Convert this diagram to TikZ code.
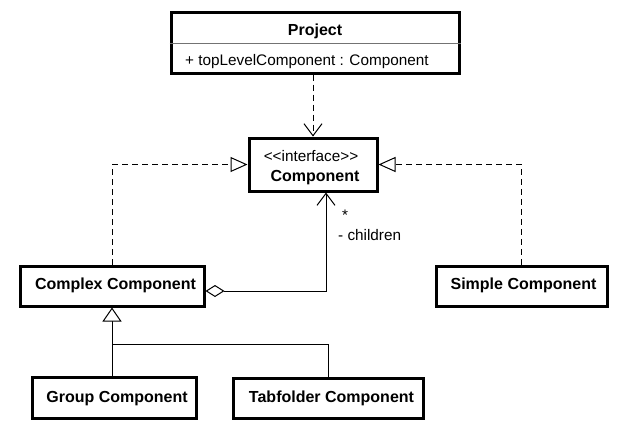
\documentclass[tikz,border=0pt]{standalone}
\usepackage{fontspec}
\setmainfont{Liberation Sans}
\usetikzlibrary{arrows.meta,calc}
\begin{document}
\begin{tikzpicture}[x=1pt,y=-1pt,
  umlbox/.style={draw=black,line width=3pt,rectangle,inner sep=0pt,fill=white},
  lbl/.style={inner sep=0pt,font=\fontsize{15.3}{17}\selectfont},
  blbl/.style={inner sep=0pt,font=\fontsize{16}{18}\selectfont\bfseries},
  conn/.style={draw=black,line width=1pt},
  dep/.style={conn,dash pattern=on 6pt off 4pt,-{Straight Barb[length=12pt,width=18pt,line width=1pt]}},
  real/.style={conn,dash pattern=on 6pt off 4pt,-{Triangle[open,length=17pt,width=15pt,line width=1pt,fill=white]}},
  gen/.style={conn,-{Triangle[open,length=14pt,width=19pt,line width=1pt,fill=white]}},
  aggr/.style={conn,{Diamond[open,length=19pt,width=12pt,line width=1pt,fill=white]}-{Straight Barb[length=12pt,width=18pt,line width=1pt]}}
]
\useasboundingbox (0,0) rectangle (627,432);

% boxes
\node[umlbox,minimum width=288pt,minimum height=61pt] (project) at (315,42.5) {};
\node[umlbox,minimum width=128pt,minimum height=53pt] (comp) at (313,164.5) {};
\node[umlbox,minimum width=184pt,minimum height=40pt] (complex) at (112,286) {};
\node[umlbox,minimum width=171pt,minimum height=40pt] (simple) at (521.5,286) {};
\node[umlbox,minimum width=164pt,minimum height=41pt] (group) at (114,397.5) {};
\node[umlbox,minimum width=190pt,minimum height=40pt] (tab) at (328,398) {};

% project separator
\draw[line width=1pt,draw=black!55] (project.west |- 0,43) -- (project.east |- 0,43);

% texts
\node[blbl,anchor=base] (tproject) at (315,35) {Project};
\node[lbl,anchor=base west] (tattr) at (185,65) {+ topLevelComponent : Component};
\node[lbl,anchor=base] (tiface) at (311,161.5) {<{}<interface>{}>};
\node[blbl,anchor=base] (tcomp) at (315,181.5) {Component};
\node[blbl,anchor=base] (tcomplex) at (115.5,289) {Complex Component};
\node[blbl,anchor=base] (tsimple) at (523.5,289) {Simple Component};
\node[blbl,anchor=base] (tgroup) at (117,402) {Group Component};
\node[blbl,anchor=base] (ttab) at (331.5,402) {Tabfolder Component};
\node[lbl] (tmult) at (345,215) {*};
\node[lbl,anchor=base west] (trole) at (338,240.5) {- children};

% connectors
\draw[dep] (comp.north |- project.south) -- (comp.north);
\draw[real] (complex.north) |- (comp.west);
\draw[real] (simple.north) |- (comp.east);
\draw[aggr] ($(complex.east)+(0,5)$) -| ($(comp.south)+(13,0)$);
\coordinate (junc) at (complex.south |- 0,344);
\draw[gen] (complex.south |- group.north) -- (complex.south);
\draw[conn] (tab.north) |- (junc);
\end{tikzpicture}
\end{document}
